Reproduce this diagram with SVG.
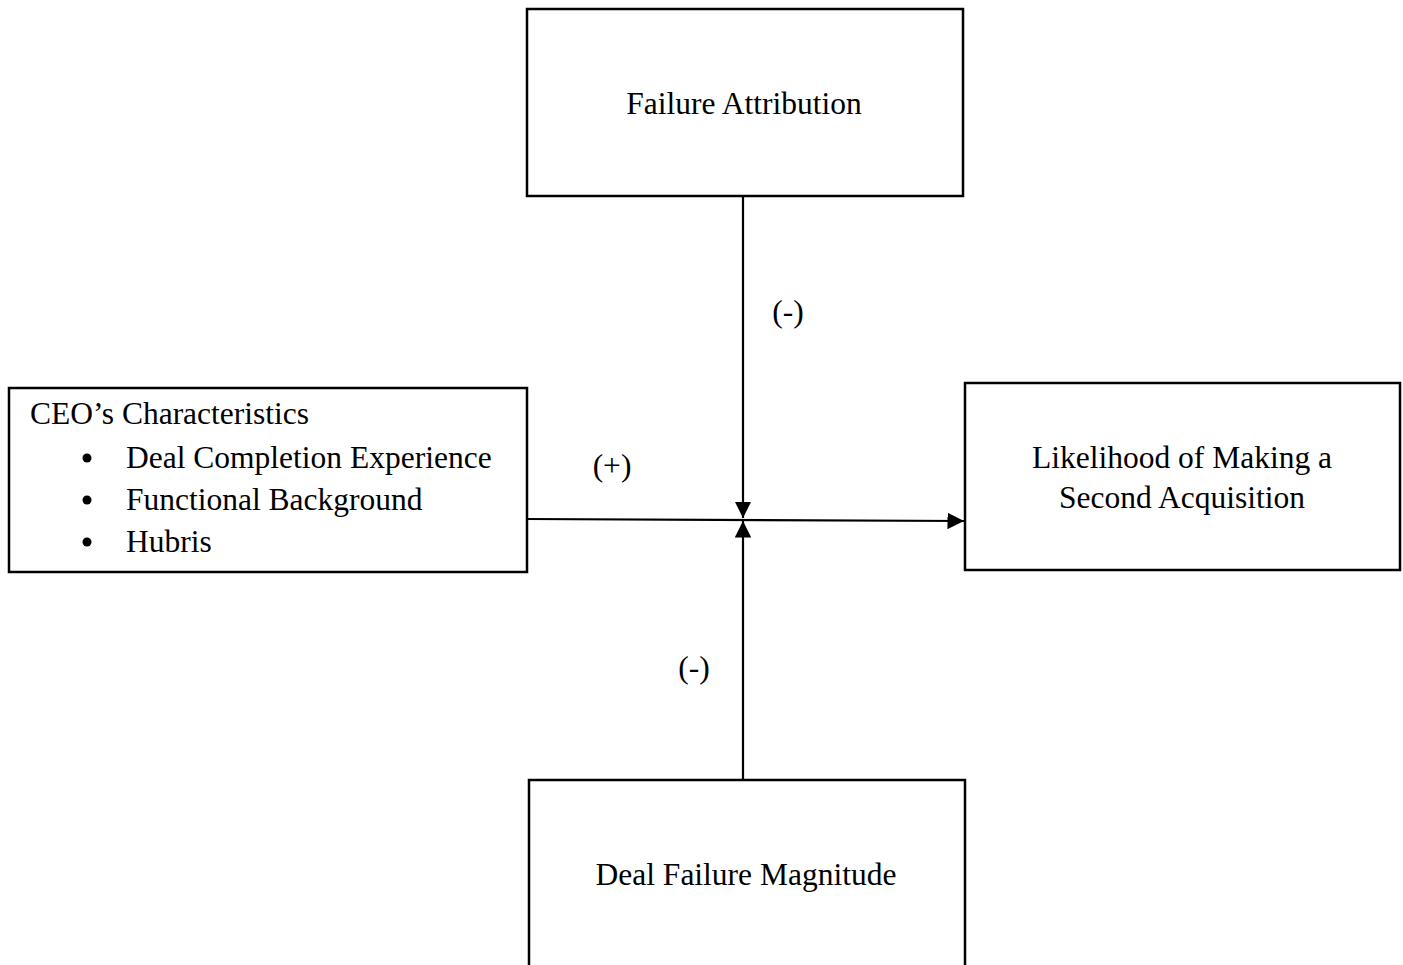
<svg xmlns="http://www.w3.org/2000/svg" width="1403" height="965" viewBox="0 0 1403 965">
  <style>
    .box { fill: #ffffff; stroke: #000000; stroke-width: 2.5; }
    .lbl { font-family: "Liberation Serif", "Times New Roman", serif; font-size: 31.5px; fill: #000000; }
    .mid { text-anchor: middle; }
    .edge { stroke: #000000; stroke-width: 2.2; fill: none; }
  </style>
  <defs>
    <marker id="arrow" viewBox="0 0 10 10" refX="10" refY="5" markerWidth="7.5" markerHeight="7.5" markerUnits="strokeWidth" orient="auto">
      <path d="M0,0 L10,5 L0,10 z" fill="#000000"/>
    </marker>
  </defs>

  <rect width="1403" height="965" fill="#ffffff"/>

  <g id="connectors">
    <line class="edge" x1="527" y1="519" x2="964" y2="521" marker-end="url(#arrow)"/>
    <line class="edge" x1="743" y1="196" x2="743" y2="518" marker-end="url(#arrow)"/>
    <line class="edge" x1="743" y1="780" x2="743" y2="521" marker-end="url(#arrow)"/>
    <text class="lbl mid" x="788" y="322">(-)</text>
    <text class="lbl mid" x="612" y="476">(+)</text>
    <text class="lbl mid" x="694" y="678">(-)</text>
  </g>

  <g id="failure-attribution">
    <rect class="box" x="527" y="9" width="436" height="187"/>
    <text class="lbl mid" x="744" y="114">Failure Attribution</text>
  </g>

  <g id="ceo-characteristics">
    <rect class="box" x="9" y="388" width="518" height="184"/>
    <text class="lbl" x="30" y="424">CEO’s Characteristics</text>
    <circle cx="87" cy="458" r="4.5" fill="#000000"/>
    <text class="lbl" x="126" y="468">Deal Completion Experience</text>
    <circle cx="87" cy="500" r="4.5" fill="#000000"/>
    <text class="lbl" x="126" y="510">Functional Background</text>
    <circle cx="87" cy="542" r="4.5" fill="#000000"/>
    <text class="lbl" x="126" y="552">Hubris</text>
  </g>

  <g id="second-acquisition">
    <rect class="box" x="965" y="383" width="435" height="187"/>
    <text class="lbl mid" x="1182" y="468">Likelihood of Making a</text>
    <text class="lbl mid" x="1182" y="508">Second Acquisition</text>
  </g>

  <g id="deal-failure-magnitude">
    <rect class="box" x="529" y="780" width="436" height="200"/>
    <text class="lbl mid" x="746" y="885">Deal Failure Magnitude</text>
  </g>
</svg>
